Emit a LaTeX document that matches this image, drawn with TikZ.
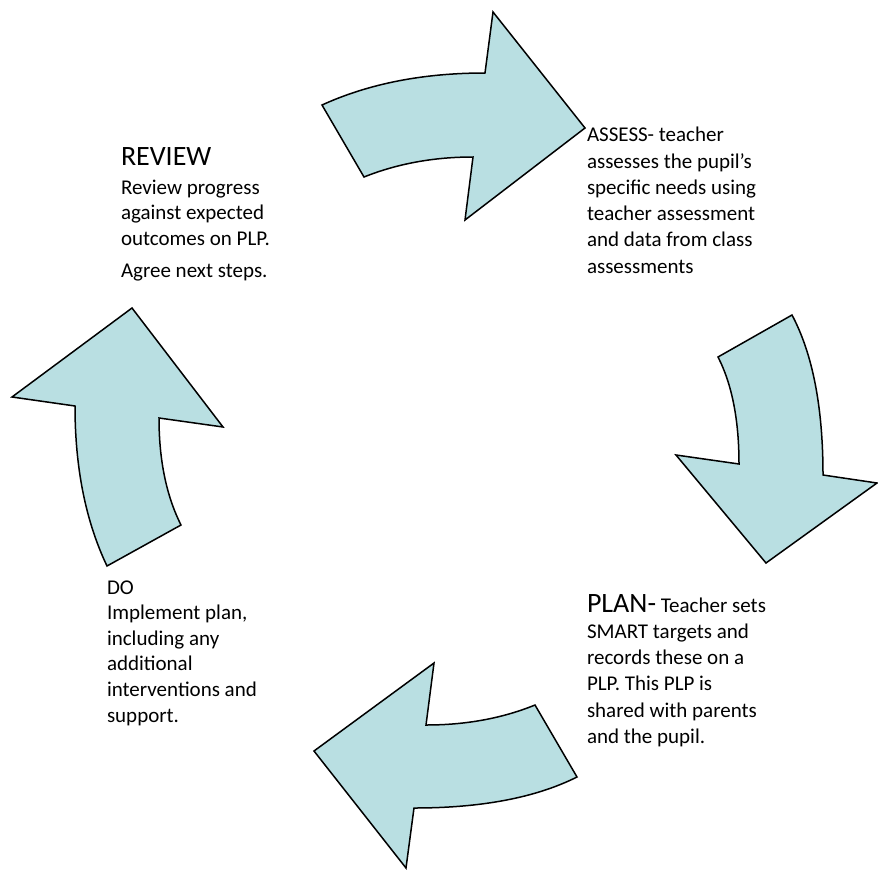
\documentclass[tikz,border=0pt]{standalone}
\usepackage{fontspec}
\setmainfont{Carlito}
\definecolor{arrowfill}{RGB}{185,223,226}
\tikzset{
  cyclearrow/.style={draw=black, fill=arrowfill, line width=1.5pt, line join=miter},
  label/.style={anchor=base west, inner sep=0pt, outer sep=0pt},
}
\newcommand{\bodyfont}{\fontsize{21}{25.6}\selectfont}
\newcommand{\bigfont}{\fontsize{28}{26}\selectfont}
\begin{document}
\begin{tikzpicture}[x=1pt,y=-1pt]
\useasboundingbox (0,0) rectangle (878,870);
% top arrow (REVIEW -> ASSESS)
\draw[cyclearrow] (322,105) .. controls (368.7,83.7) and (423,73) .. (485,73)
  -- (493,12) -- (585,128) -- (465,220) -- (473,157)
  .. controls (433.7,157) and (397.3,163.7) .. (364,177) -- cycle;
% right arrow (ASSESS -> PLAN)
\draw[cyclearrow] (792,315) -- (718,357)
  .. controls (732,384.3) and (739,420) .. (739,464)
  -- (676,455) -- (766,563) -- (877,483) -- (823,475)
  .. controls (823,407.3) and (812.7,354) .. (792,315) -- cycle;
% bottom arrow (PLAN -> DO)
\draw[cyclearrow] (535,705) -- (577,777)
  .. controls (535.7,797.7) and (481.3,808) .. (414,808)
  -- (406,868) -- (314,751) -- (434,663) -- (426,725)
  .. controls (466,725) and (502.3,718.3) .. (535,705) -- cycle;
% left arrow (DO -> REVIEW)
\draw[cyclearrow] (107,566) -- (181,525)
  .. controls (166.3,495.7) and (159,460) .. (159,418)
  -- (223,427) -- (132,308) -- (12,397) -- (75,406)
  .. controls (75,468) and (85.7,521.3) .. (107,566) -- cycle;

% texts
\node[label] (reviewtitle) at (121,165) {\bigfont REVIEW};
\node[label] (reviewtext) at (121,194) {\parbox[t]{200pt}{\bodyfont\raggedright
  Review progress\\ against expected\\ outcomes on PLP.\\[7pt] Agree next steps.}};
\node[label] (assess) at (587,141.7) {\parbox[t]{220pt}{\fontsize{21}{26.3}\selectfont\raggedright
  ASSESS- teacher\\ assesses the pupil’s\\ specific needs using\\ teacher assessment\\ and data from class\\ assessments}};
\node[label] (plan) at (587,612) {\parbox[t]{230pt}{\fontsize{21}{26.3}\selectfont\raggedright
  {\bigfont PLAN-} Teacher sets\\ SMART targets and\\ records these on a\\ PLP. This PLP is\\ shared with parents\\ and the pupil.}};
\node[label] (do) at (107,594) {\parbox[t]{220pt}{\bodyfont\raggedright
  DO\\ Implement plan,\\ including any\\ additional\\ interventions and\\ support.}};
\end{tikzpicture}
\end{document}
